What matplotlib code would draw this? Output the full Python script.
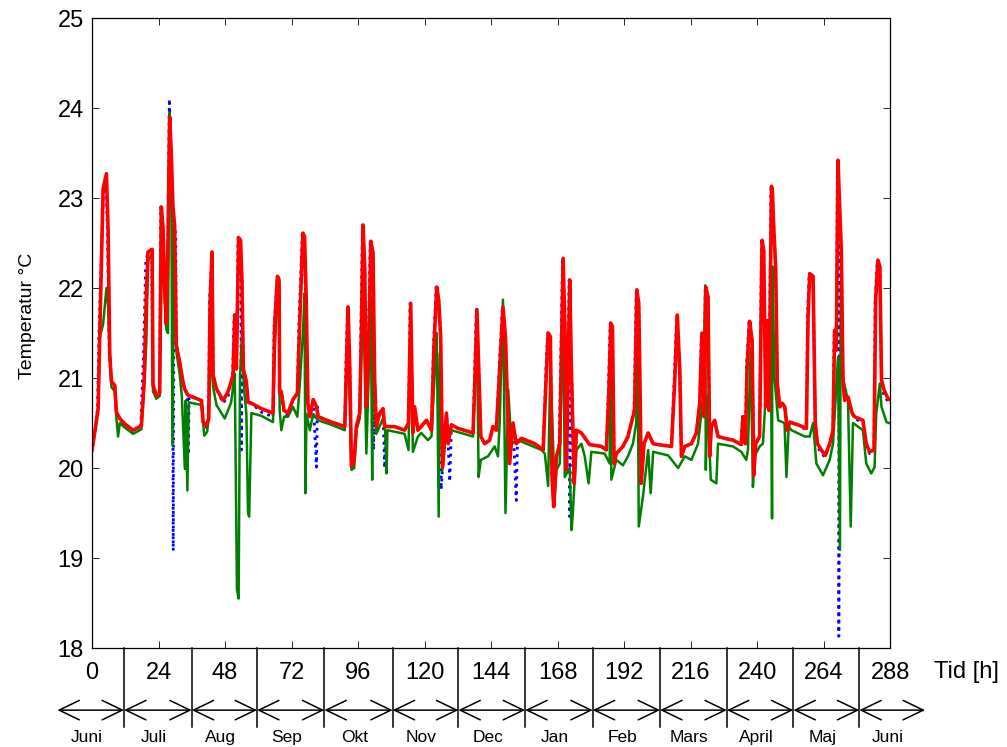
import matplotlib
matplotlib.use("Agg")
import matplotlib.pyplot as plt

plt.rcParams["font.family"] = ["Liberation Sans", "DejaVu Sans"]

# (tid [h], temperatur [°C])
red_pts = [
    (0, 20.2), (1.0, 20.4), (2.2, 20.66), (2.8, 21.5), (4.0, 23.1), (5.2, 23.27), (5.8, 22.64),
    (6.4, 21.26), (7.0, 20.96), (8.2, 20.92), (8.8, 20.62), (10.0, 20.55), (11.8, 20.49),
    (14.8, 20.42), (17.8, 20.47), (18.8, 20.96), (19.6, 21.93), (20.2, 22.40), (21.7, 22.43),
    (22.0, 20.92), (23.2, 20.81), (24.4, 20.83), (25.0, 22.90), (25.6, 22.68), (26.2, 22.0),
    (26.8, 21.6), (27.4, 22.5), (28.0, 23.9), (28.6, 23.5), (29.2, 22.9), (29.8, 22.7),
    (30.4, 21.37), (31.6, 21.18), (32.8, 20.96), (33.4, 20.88), (34.6, 20.81), (39.5, 20.75),
    (40.1, 20.51), (41.3, 20.47), (42.1, 20.55), (42.6, 21.85), (43.3, 22.40), (43.7, 21.03),
    (44.9, 20.88), (47.3, 20.75), (49.1, 20.85), (50.9, 21.03), (51.5, 21.70), (52.1, 21.1),
    (52.9, 22.56), (53.6, 22.53), (54.1, 22.08), (54.6, 21.1), (55.7, 20.96), (56.3, 20.73),
    (57.5, 20.72), (61.1, 20.66), (65.3, 20.61), (65.9, 21.57), (66.9, 22.13), (67.5, 22.09),
    (67.7, 20.83), (68.3, 20.85), (69.3, 20.64), (70.7, 20.61), (72.5, 20.76), (74.1, 20.83),
    (74.9, 21.57), (76.1, 22.61), (76.7, 22.57), (77.3, 21.87), (77.9, 20.72), (78.6, 20.57),
    (79.8, 20.76), (81.0, 20.68), (81.6, 20.57), (86.4, 20.51), (91.2, 20.46), (91.8, 21.13),
    (92.4, 21.79), (93.0, 21.13), (93.6, 20.02), (94.6, 20.09), (95.4, 20.46), (96.6, 20.61),
    (97.2, 21.5), (97.8, 22.70), (98.4, 22.24), (99.0, 20.68), (99.8, 21.2), (100.6, 22.52),
    (101.4, 22.39), (102.0, 20.94), (102.6, 20.46), (103.8, 20.61), (105.0, 20.66),
    (105.6, 20.46), (109.2, 20.46), (112.8, 20.42), (114.2, 20.5), (115.0, 21.83),
    (115.8, 20.39), (116.4, 20.68), (117.6, 20.42), (120.7, 20.53), (122.5, 20.42),
    (123.4, 21.35), (124.4, 22.01), (125.1, 21.87), (125.8, 21.46), (126.5, 20.01),
    (127.9, 20.61), (128.5, 20.27), (129.7, 20.48), (132.1, 20.44), (137.5, 20.39),
    (138.1, 20.9), (138.9, 21.76), (139.5, 21.16), (140.3, 20.35), (141.7, 20.27),
    (143.5, 20.31), (144.7, 20.46), (145.9, 20.42), (147.1, 21.09), (148.3, 21.79),
    (149.2, 21.46), (149.9, 20.72), (150.7, 20.05), (151.9, 20.5), (153.1, 20.27),
    (154.9, 20.33), (159.8, 20.27), (162.8, 20.2), (164.0, 21.09), (164.6, 21.5),
    (165.4, 21.46), (166.0, 19.9), (166.6, 19.57), (167.6, 20.13), (168.8, 20.27),
    (170.0, 22.33), (170.8, 21.4), (171.2, 19.98), (172.4, 22.09), (173.0, 21.09),
    (174.0, 19.83), (174.8, 20.42), (176.6, 20.39), (178.4, 20.31), (179.6, 20.26),
    (183.8, 20.24), (185.6, 20.2), (186.5, 20.83), (187.2, 21.61), (187.8, 21.57),
    (188.4, 20.05), (189.2, 20.16), (191.6, 20.24), (193.4, 20.35), (194.6, 20.5),
    (195.8, 20.64), (196.6, 21.98), (197.3, 21.83), (197.8, 20.79), (198.2, 19.83),
    (199.2, 20.27), (200.7, 20.39), (202.5, 20.27), (204.3, 20.26), (209.1, 20.24),
    (210.3, 20.98), (211.2, 21.7), (212.1, 21.09), (212.7, 20.13), (213.9, 20.24),
    (216.3, 20.27), (218.1, 20.39), (219.3, 20.72), (220.1, 21.5), (220.9, 20.57),
    (221.5, 22.01), (222.3, 21.9), (222.9, 20.13), (223.5, 20.46), (224.7, 20.53),
    (225.9, 20.35), (228.3, 20.33), (231.3, 20.31), (234.3, 20.26), (234.9, 20.57),
    (235.8, 20.27), (236.4, 21.13), (237.3, 21.63), (238.2, 21.42), (238.8, 19.92),
    (239.5, 20.27), (240.9, 20.35), (241.8, 22.53), (242.4, 22.42), (243.1, 20.68),
    (243.7, 21.64), (244.3, 20.64), (245.2, 23.13), (245.5, 23.09), (246.1, 22.61),
    (246.7, 22.24), (247.3, 20.94), (248.2, 20.68), (249.1, 20.72), (250.0, 20.68),
    (250.9, 20.42), (251.8, 20.51), (254.8, 20.48), (257.8, 20.44), (258.4, 21.68),
    (259.0, 22.16), (260.2, 22.13), (261.0, 20.5), (261.8, 20.27), (263.2, 20.2),
    (264.6, 20.14), (266.2, 20.27), (267.4, 20.42), (268.0, 21.53), (268.6, 21.31),
    (269.2, 23.42), (269.8, 22.9), (270.4, 22.42), (271.0, 20.98), (271.6, 20.75),
    (272.8, 20.79), (273.4, 20.72), (274.3, 20.61), (275.2, 20.57), (278.2, 20.53),
    (279.4, 20.27), (280.6, 20.18), (282.2, 20.2), (282.8, 21.87), (283.6, 22.31),
    (284.3, 22.24), (284.9, 20.98), (285.8, 20.87), (287.3, 20.77), (288.5, 20.75),
]

blue_pts = [
    (0, 20.2), (1.0, 20.4), (2.0, 20.66), (2.5, 21.5), (3.4, 22.4), (4.0, 23.0), (5.0, 23.2),
    (5.6, 22.6), (6.2, 21.3), (7.0, 20.96), (8.2, 20.92), (8.8, 20.62), (10.0, 20.55),
    (11.8, 20.49), (14.8, 20.42), (17.6, 20.47), (18.6, 21.3), (19.4, 22.3), (20.2, 22.40),
    (21.5, 22.43), (21.9, 20.92), (23.2, 20.81), (24.4, 20.83), (24.8, 22.90), (25.6, 22.68),
    (26.2, 22.0), (26.8, 21.6), (27.4, 22.6), (27.9, 24.1), (28.4, 23.5), (29.0, 22.9),
    (29.3, 19.08), (29.6, 22.7), (30.2, 22.6), (30.4, 21.37), (31.6, 21.18), (32.8, 20.96),
    (33.4, 20.88), (34.4, 20.81), (34.8, 20.15), (35.0, 20.8), (39.5, 20.75), (40.1, 20.51),
    (41.3, 20.45), (42.1, 20.55), (42.4, 21.85), (43.3, 22.40), (43.7, 21.03), (44.9, 20.88),
    (47.3, 20.72), (49.1, 20.8), (50.7, 21.03), (51.3, 21.70), (52.1, 21.1), (52.7, 22.56),
    (53.6, 22.53), (53.9, 20.2), (54.1, 22.08), (54.6, 21.1), (55.7, 20.96), (56.3, 20.73),
    (57.5, 20.72), (61.1, 20.62), (65.3, 20.57), (65.7, 21.57), (66.9, 22.13), (67.5, 22.09),
    (67.7, 20.83), (68.3, 20.8), (69.3, 20.6), (70.7, 20.58), (72.5, 20.76), (74.1, 20.83),
    (74.6, 21.57), (75.9, 22.61), (76.5, 22.57), (77.1, 21.87), (77.9, 20.72), (78.6, 20.57),
    (79.8, 20.76), (81.0, 20.01), (81.3, 20.68), (81.6, 20.57), (86.4, 20.51), (91.2, 20.46),
    (91.6, 21.13), (92.2, 21.79), (93.0, 21.13), (93.6, 20.02), (94.6, 20.09), (95.4, 20.46),
    (96.6, 20.61), (97.0, 21.5), (97.6, 22.70), (98.4, 22.24), (99.0, 20.68), (99.6, 21.2),
    (100.4, 22.52), (101.4, 22.39), (101.6, 20.2), (102.0, 20.94), (102.6, 20.46),
    (103.8, 20.61), (105.0, 20.66), (105.6, 20.0), (105.9, 20.46), (109.2, 20.46),
    (112.8, 20.42), (114.2, 20.5), (114.8, 21.83), (115.8, 20.39), (116.4, 20.68),
    (117.6, 20.42), (120.7, 20.53), (122.5, 20.42), (123.2, 21.35), (124.2, 22.01),
    (125.1, 21.87), (125.8, 21.46), (126.0, 19.76), (126.5, 20.01), (127.9, 20.61),
    (128.5, 20.27), (129.1, 19.85), (129.7, 20.48), (132.1, 20.44), (137.5, 20.39),
    (137.9, 20.9), (138.7, 21.76), (139.5, 21.16), (140.3, 20.35), (141.7, 20.27),
    (143.5, 20.31), (144.7, 20.46), (145.9, 20.42), (146.9, 21.09), (148.1, 21.79),
    (149.2, 21.46), (149.9, 20.72), (150.7, 20.05), (151.9, 20.5), (153.1, 19.64),
    (153.5, 20.27), (154.9, 20.33), (159.8, 20.27), (162.8, 20.2), (163.8, 21.09),
    (164.4, 21.5), (165.4, 21.46), (166.0, 19.9), (166.6, 19.57), (167.6, 20.13),
    (168.6, 20.27), (169.8, 22.33), (170.8, 21.4), (171.2, 19.98), (172.2, 22.09),
    (172.4, 19.46), (173.0, 21.09), (174.0, 19.83), (174.8, 20.42), (176.6, 20.39),
    (178.4, 20.31), (179.6, 20.26), (183.8, 20.24), (185.6, 20.2), (186.3, 20.83),
    (187.0, 21.61), (187.8, 21.57), (188.4, 20.05), (189.2, 20.16), (191.6, 20.24),
    (193.4, 20.35), (194.6, 20.5), (195.6, 20.64), (196.4, 21.98), (197.3, 21.83),
    (197.8, 20.79), (198.2, 19.83), (199.2, 20.27), (200.7, 20.39), (202.5, 20.27),
    (204.3, 20.26), (209.1, 20.24), (210.1, 20.98), (211.0, 21.7), (212.1, 21.09),
    (212.7, 20.13), (213.9, 20.24), (216.3, 20.27), (218.1, 20.39), (219.3, 20.72),
    (219.9, 21.5), (220.9, 20.57), (221.3, 22.01), (222.3, 21.9), (222.9, 20.13),
    (223.5, 20.46), (224.7, 20.53), (225.9, 20.35), (228.3, 20.33), (231.3, 20.31),
    (234.3, 20.26), (234.7, 20.57), (235.8, 20.27), (236.2, 21.13), (237.1, 21.63),
    (238.2, 21.42), (238.8, 19.92), (239.5, 20.27), (240.9, 20.35), (241.6, 22.53),
    (242.4, 22.42), (243.1, 20.68), (243.5, 21.64), (244.3, 20.64), (245.0, 23.13),
    (245.5, 23.09), (246.1, 22.61), (246.7, 22.24), (247.3, 20.94), (248.2, 20.68),
    (249.1, 20.72), (250.0, 20.68), (250.9, 20.42), (251.8, 20.51), (254.8, 20.48),
    (257.8, 20.42), (258.2, 21.68), (258.8, 22.16), (260.2, 22.13), (261.0, 20.5),
    (261.8, 20.24), (263.2, 20.16), (264.6, 20.12), (266.2, 20.27), (267.4, 20.42),
    (267.8, 21.53), (268.6, 21.31), (269.0, 23.42), (269.6, 22.5), (269.5, 18.13),
    (269.8, 22.5), (270.4, 22.42), (271.0, 20.98), (271.6, 20.75), (272.8, 20.79),
    (273.4, 20.72), (274.3, 20.61), (275.2, 20.55), (278.2, 20.5), (279.4, 20.24),
    (280.6, 20.16), (282.2, 20.18), (282.6, 21.87), (283.4, 22.31), (284.3, 22.24),
    (284.9, 20.98), (285.8, 20.8), (287.3, 20.74), (288.5, 20.72),
]

green_pts = [
    (0, 20.2), (1.0, 20.4), (2.2, 20.66), (2.8, 21.45), (4.0, 21.6), (5.2, 22.0), (5.8, 21.8),
    (6.4, 21.26), (7.0, 20.9), (8.2, 20.85), (8.8, 20.55), (9.4, 20.35), (10.0, 20.5),
    (11.8, 20.45), (14.8, 20.38), (17.8, 20.43), (18.8, 20.9), (19.6, 21.4), (20.2, 22.3),
    (21.7, 22.38), (22.0, 20.85), (23.2, 20.77), (24.4, 20.8), (25.0, 22.0), (25.6, 22.3),
    (26.2, 21.9), (26.8, 21.54), (27.4, 21.5), (28.0, 23.95), (28.6, 23.3), (29.0, 20.25),
    (29.6, 22.7), (30.4, 21.3), (31.6, 21.05), (32.4, 20.8), (33.5, 19.99), (33.8, 20.75),
    (34.4, 19.75), (34.9, 20.73), (39.5, 20.7), (40.5, 20.36), (41.5, 20.4), (42.1, 20.55),
    (42.6, 21.0), (43.3, 21.25), (43.7, 20.9), (44.9, 20.7), (46.5, 20.62), (47.9, 20.55),
    (50.2, 20.73), (51.5, 21.05), (52.3, 18.65), (52.9, 18.55), (53.4, 21.0), (54.1, 21.5),
    (54.8, 20.9), (55.7, 20.6), (56.3, 19.5), (56.7, 19.46), (57.5, 20.61), (61.1, 20.58),
    (65.3, 20.51), (65.9, 21.3), (66.9, 21.9), (67.5, 21.8), (67.7, 20.65), (68.3, 20.42),
    (69.3, 20.57), (70.7, 20.57), (72.5, 20.68), (74.1, 20.57), (74.9, 20.9), (76.1, 21.5),
    (76.7, 21.94), (77.0, 19.72), (77.4, 20.6), (78.6, 20.42), (79.8, 20.6), (81.6, 20.53),
    (86.4, 20.48), (91.2, 20.42), (92.4, 21.5), (93.6, 19.98), (94.6, 20.0), (95.4, 20.42),
    (96.6, 20.55), (97.8, 22.0), (98.4, 21.1), (99.0, 20.16), (99.8, 21.0), (100.6, 21.9),
    (101.1, 19.87), (101.4, 21.7), (102.6, 20.38), (105.0, 20.55), (105.8, 20.4),
    (106.3, 19.94), (106.6, 20.42), (112.8, 20.38), (114.2, 20.2), (115.0, 21.5),
    (115.8, 20.18), (117.6, 20.35), (118.8, 20.39), (121.2, 20.31), (122.5, 20.35),
    (124.4, 21.5), (125.1, 19.46), (125.5, 21.27), (126.5, 19.98), (127.3, 20.27),
    (129.7, 20.42), (137.5, 20.35), (138.9, 21.6), (139.5, 19.9), (140.3, 20.09),
    (142.9, 20.13), (145.3, 20.24), (146.5, 20.13), (147.1, 20.5), (148.3, 21.87),
    (149.2, 19.5), (150.2, 20.87), (151.3, 20.27), (153.7, 20.31), (162.2, 20.2),
    (163.4, 20.16), (164.6, 19.8), (165.4, 21.2), (167.0, 19.68), (167.6, 19.98),
    (168.8, 20.05), (170.0, 21.9), (170.6, 19.9), (172.4, 20.0), (173.0, 19.31),
    (173.2, 19.35), (174.8, 20.2), (176.6, 20.27), (177.8, 20.13), (179.2, 19.83),
    (180.2, 20.18), (185.0, 20.16), (186.8, 20.05), (187.2, 21.4), (187.4, 19.87),
    (189.2, 20.09), (191.6, 20.03), (193.4, 20.13), (195.2, 20.27), (196.4, 20.5),
    (196.9, 21.5), (197.3, 19.35), (198.8, 19.68), (200.7, 20.2), (201.6, 19.72),
    (202.5, 20.18), (207.9, 20.14), (211.5, 20.0), (213.9, 20.13), (216.3, 20.09),
    (218.7, 20.27), (220.5, 20.79), (221.3, 22.03), (221.5, 19.98), (222.0, 20.8),
    (223.3, 19.87), (225.3, 19.83), (225.9, 20.27), (231.3, 20.24), (234.3, 20.18),
    (236.1, 20.09), (236.7, 20.2), (237.7, 21.33), (238.5, 19.79), (239.1, 20.13),
    (240.9, 20.24), (242.1, 20.27), (243.5, 21.0), (245.2, 20.6), (245.4, 19.44),
    (245.5, 22.24), (246.3, 21.0), (247.6, 20.53), (249.9, 20.5), (250.6, 19.9),
    (251.4, 20.46), (252.4, 20.42), (257.2, 20.35), (259.0, 20.35), (260.2, 20.5),
    (261.4, 20.05), (263.8, 19.92), (266.2, 20.09), (267.4, 20.27), (269.2, 21.23),
    (269.9, 19.09), (270.2, 22.05), (271.0, 21.0), (272.8, 20.75), (273.8, 19.35),
    (274.6, 20.5), (278.2, 20.42), (279.4, 20.05), (281.2, 19.94), (282.4, 20.01),
    (283.0, 20.6), (284.3, 20.94), (284.9, 20.68), (286.7, 20.51), (288.5, 20.49),
]

x_ticks = list(range(0, 289, 24))
y_ticks = [18, 19, 20, 21, 22, 23, 24, 25]

months = ["Juni", "Juli", "Aug", "Sep", "Okt", "Nov", "Dec", "Jan", "Feb", "Mars", "April", "Maj", "Juni"]
month_edges = [-12.5, 11.55, 35.98, 59.55, 83.83, 108.5, 132.2, 156.3, 180.7, 205.0,
               229.1, 253.1, 276.9, 300.6]

fig = plt.figure(figsize=(10.07, 7.47), dpi=100)
ax = fig.add_axes([0.0914, 0.1325, 0.7925, 0.8434])

bt, bv = zip(*blue_pts)
gt, gv = zip(*green_pts)
rt, rv = zip(*red_pts)
ax.plot(bt, bv, color="#0000FF", lw=2.0, ls=":")
ax.plot(gt, gv, color="#008000", lw=1.8)
ax.plot(rt, rv, color="#FF0000", lw=2.6)

ax.set_xlim(0, 288)
ax.set_ylim(18, 25)
ax.set_xticks(x_ticks)
ax.set_yticks(y_ticks)
ax.tick_params(direction="in", length=5, width=0.6, labelsize=17,
               top=True, right=True, colors="#000000")
ax.tick_params(axis="x", pad=10)
ax.tick_params(axis="y", pad=6)
for s in ax.spines.values():
    s.set_linewidth(0.9)

ax.set_ylabel("Temperatur °C", fontsize=14)
ax.yaxis.set_label_coords(-0.070, 0.527)

# Tid label, month arrows below the axis
ax.text(304, 17.73, "Tid [h]", fontsize=17, ha="left", va="center", clip_on=False)

y_arrow = 17.31
for e in month_edges[1:-1]:
    ax.plot([e, e], [18, 17.12], color="k", lw=1.1, clip_on=False)
for i, name in enumerate(months):
    a, b = month_edges[i], month_edges[i + 1]
    ax.annotate("", xy=(a, y_arrow), xytext=(b, y_arrow), annotation_clip=False,
                arrowprops=dict(arrowstyle="<->,head_length=1.45,head_width=0.7",
                                color="k", lw=1.1, shrinkA=0, shrinkB=0, mutation_scale=10))
    ax.text((a + b) / 2 - 1.5, 17.01, name, fontsize=12.5, ha="center", va="center",
            clip_on=False)

fig.savefig("out.png", dpi=100)
